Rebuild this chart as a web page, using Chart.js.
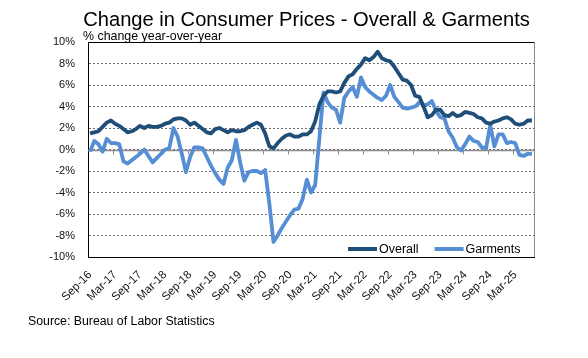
<!DOCTYPE html>
<html>
<head>
<meta charset="utf-8">
<script src="https://cdn.jsdelivr.net/npm/chart.js@4.4.1/dist/chart.umd.min.js"></script>
<style>
  html, body { margin: 0; padding: 0; background: #fff; }
  #wrap { width: 588px; height: 358px; position: relative; }
</style>
</head>
<body>
<div id="wrap"><canvas id="c" width="588" height="358"></canvas></div>
<script>
// ---- DATA ----
const chartTitle = "Change in Consumer Prices - Overall & Garments";
const axisCaption = "% change year-over-year";
const sourceNote = "Source: Bureau of Labor Statistics";

const categories = [
  "Sep-16","Oct-16","Nov-16","Dec-16",
  "Jan-17","Feb-17","Mar-17","Apr-17","May-17","Jun-17","Jul-17","Aug-17","Sep-17","Oct-17","Nov-17","Dec-17",
  "Jan-18","Feb-18","Mar-18","Apr-18","May-18","Jun-18","Jul-18","Aug-18","Sep-18","Oct-18","Nov-18","Dec-18",
  "Jan-19","Feb-19","Mar-19","Apr-19","May-19","Jun-19","Jul-19","Aug-19","Sep-19","Oct-19","Nov-19","Dec-19",
  "Jan-20","Feb-20","Mar-20","Apr-20","May-20","Jun-20","Jul-20","Aug-20","Sep-20","Oct-20","Nov-20","Dec-20",
  "Jan-21","Feb-21","Mar-21","Apr-21","May-21","Jun-21","Jul-21","Aug-21","Sep-21","Oct-21","Nov-21","Dec-21",
  "Jan-22","Feb-22","Mar-22","Apr-22","May-22","Jun-22","Jul-22","Aug-22","Sep-22","Oct-22","Nov-22","Dec-22",
  "Jan-23","Feb-23","Mar-23","Apr-23","May-23","Jun-23","Jul-23","Aug-23","Sep-23","Oct-23","Nov-23","Dec-23",
  "Jan-24","Feb-24","Mar-24","Apr-24","May-24","Jun-24","Jul-24","Aug-24","Sep-24","Oct-24","Nov-24","Dec-24",
  "Jan-25","Feb-25","Mar-25","Apr-25","May-25","Jun-25","Jul-25"
];

const overall = [
  1.5,1.6,1.7,2.1,
  2.5,2.7,2.4,2.2,1.9,1.6,1.7,1.9,2.2,2.0,2.2,2.1,
  2.1,2.2,2.4,2.5,2.8,2.9,2.9,2.7,2.3,2.5,2.2,1.9,
  1.6,1.5,1.9,2.0,1.8,1.6,1.8,1.7,1.7,1.8,2.1,2.3,
  2.5,2.3,1.5,0.3,0.1,0.6,1.0,1.3,1.4,1.2,1.2,1.4,
  1.4,1.7,2.6,4.2,5.0,5.4,5.4,5.3,5.4,6.2,6.8,7.0,
  7.5,7.9,8.5,8.3,8.6,9.1,8.5,8.3,8.2,7.7,7.1,6.5,
  6.4,6.0,5.0,4.9,4.0,3.0,3.2,3.7,3.7,3.2,3.1,3.4,
  3.1,3.2,3.5,3.4,3.3,3.0,2.9,2.5,2.4,2.6,2.7,2.9,
  3.0,2.8,2.4,2.3,2.4,2.7,2.7
];

const garments = [
  -0.2,0.8,0.5,-0.2,
  1.0,0.6,0.6,0.5,-1.1,-1.3,-1.0,-0.7,-0.4,0.0,-0.6,-1.2,
  -0.8,-0.4,0.0,0.1,2.0,1.2,-0.4,-2.1,-0.7,0.2,0.2,0.1,
  -0.7,-1.5,-2.2,-2.8,-3.2,-1.7,-1.0,0.9,-1.2,-2.9,-2.1,-2.0,
  -2.0,-2.2,-1.9,-5.0,-8.6,-8.0,-7.3,-6.7,-6.1,-5.6,-5.5,-4.6,
  -2.8,-4.0,-3.3,1.0,5.3,4.4,3.9,3.7,2.5,4.8,5.4,5.8,
  4.9,6.7,5.8,5.4,5.1,4.8,4.6,5.0,6.0,4.9,4.4,3.9,
  3.8,3.9,4.0,4.4,4.1,4.2,4.5,3.6,3.0,2.9,1.7,1.1,
  0.2,-0.1,0.5,1.2,0.8,0.7,0.2,0.1,2.3,0.3,1.4,1.4,
  0.6,0.7,0.6,-0.5,-0.6,-0.4,-0.4
];

const seriesNames = ["Overall", "Garments"];
const seriesColors = ["#1F4E79", "#558ED5"];
const yTicks = [-10, -8, -6, -4, -2, 0, 2, 4, 6, 8, 10];
const labelEvery = 6;

// ---- DRAWING ----
const FONT = "'Liberation Sans', Arial, sans-serif";

const decor = {
  id: 'decor',
  beforeDatasetsDraw(chart) {
    const { ctx, chartArea: a, scales: { x, y } } = chart;
    ctx.save();
    ctx.strokeStyle = '#000'; ctx.lineWidth = 1;
    ctx.beginPath(); ctx.moveTo(a.left, a.top + 0.5); ctx.lineTo(a.right, a.top + 0.5); ctx.stroke();
    ctx.strokeStyle = '#8a8a8a';
    ctx.beginPath(); ctx.moveTo(a.right + 0.5, a.top); ctx.lineTo(a.right + 0.5, a.bottom); ctx.stroke();
    const y0 = Math.round(y.getPixelForValue(0)) + 0.5;
    ctx.strokeStyle = '#8c8c8c'; ctx.lineWidth = 1.5;
    ctx.beginPath(); ctx.moveTo(a.left, y0); ctx.lineTo(a.right, y0); ctx.stroke();
    const half = (x.getPixelForValue(1) - x.getPixelForValue(0)) / 2;
    ctx.lineWidth = 1;
    ctx.beginPath();
    for (let i = labelEvery; i < categories.length; i += labelEvery) {
      const px = Math.round(x.getPixelForValue(i) - half) + 0.5;
      ctx.moveTo(px, y0); ctx.lineTo(px, y0 + 4);
    }
    ctx.stroke();
    ctx.restore();
  },
  afterDraw(chart) {
    const { ctx } = chart;
    ctx.save();
    ctx.fillStyle = '#000';
    let fs = 20;
    ctx.font = fs + 'px ' + FONT;
    const w = ctx.measureText(chartTitle).width;
    fs = fs * 447 / w;
    ctx.font = fs + 'px ' + FONT;
    ctx.textAlign = 'center'; ctx.textBaseline = 'alphabetic';
    ctx.fillText(chartTitle, 306.5, 26);
    ctx.font = '12.4px ' + FONT;
    ctx.textAlign = 'left';
    ctx.fillText(axisCaption, 83, 40);
    ctx.font = '12.3px ' + FONT;
    ctx.fillText(sourceNote, 28, 325);
    ctx.font = '12.5px ' + FONT;
    ctx.textBaseline = 'middle';
    const ly = 249;
    let lx = 348;
    chart.data.datasets.forEach((ds) => {
      ctx.strokeStyle = ds.borderColor; ctx.lineWidth = 4; ctx.lineCap = 'butt';
      ctx.beginPath(); ctx.moveTo(lx, ly); ctx.lineTo(lx + 29, ly); ctx.stroke();
      ctx.fillText(ds.label, lx + 31, ly + 1);
      lx += 31 + ctx.measureText(ds.label).width + 16;
    });
    ctx.restore();
  }
};

new Chart(document.getElementById('c'), {
  type: 'line',
  data: {
    labels: categories,
    datasets: [
      { label: seriesNames[0], data: overall, borderColor: seriesColors[0], backgroundColor: seriesColors[0], borderWidth: 3.8, pointRadius: 0, tension: 0, borderJoinStyle: 'round' },
      { label: seriesNames[1], data: garments, borderColor: seriesColors[1], backgroundColor: seriesColors[1], borderWidth: 3.8, pointRadius: 0, tension: 0, borderJoinStyle: 'round' }
    ]
  },
  options: {
    responsive: false,
    animation: false,
    devicePixelRatio: 1,
    layout: { padding: { left: 0, right: 54, top: 42, bottom: 0 } },
    plugins: { legend: { display: false }, title: { display: false }, tooltip: { enabled: false } },
    scales: {
      x: {
        type: 'category',
        offset: true,
        grid: { display: false },
        border: { display: true, color: '#000', width: 1 },
        ticks: {
          autoSkip: false,
          minRotation: 45, maxRotation: 45,
          padding: 3,
          color: '#111',
          font: { family: FONT, size: 11.5 },
          callback: function (v, i) { return i % labelEvery === 0 ? categories[i] : ''; }
        },
        afterFit(scale) { scale.height = 101; }
      },
      y: {
        min: -10, max: 10,
        afterBuildTicks(scale) { scale.ticks = yTicks.map(v => ({ value: v })); },
        grid: { color: '#6e6e6e', lineWidth: 1, drawTicks: false },
        border: { display: true, color: '#000', width: 1, dash: [2, 2] },
        ticks: {
          padding: 13,
          color: '#111',
          font: { family: FONT, size: 11 },
          callback: v => v + '%'
        },
        afterFit(scale) { scale.width = 88; }
      }
    }
  },
  plugins: [decor]
});
</script>
</body>
</html>
